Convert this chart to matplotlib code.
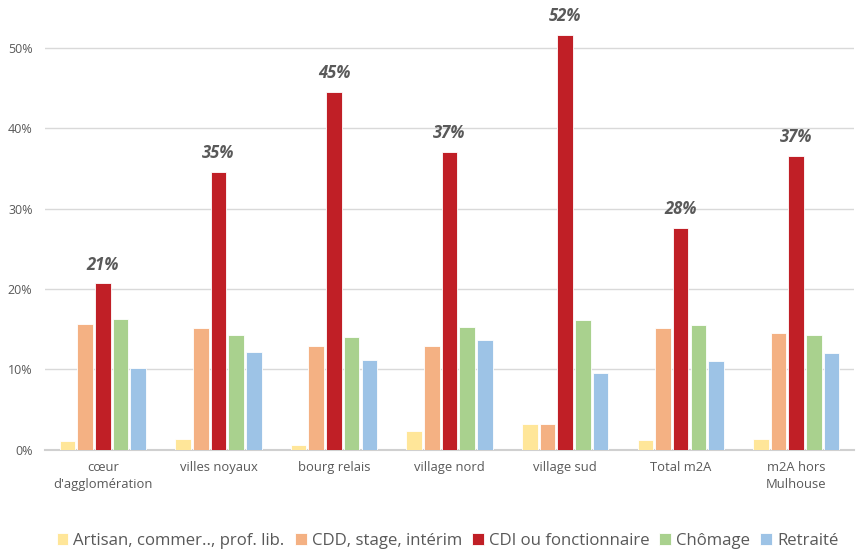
import numpy as np
import matplotlib.pyplot as plt

plt.rcParams['font.family'] = ['Open Sans', 'DejaVu Sans']

# territories
categories = ["cœur\nd'agglomération", "villes noyaux", "bourg relais", "village nord",
              "village sud", "Total m2A", "m2A hors\nMulhouse"]

# share of each status, in %
artisan = [1.1, 1.35, 0.6, 2.3, 3.2, 1.15, 1.3]
cdd = [15.6, 15.1, 12.9, 12.9, 3.2, 15.2, 14.5]
cdi = [20.7, 34.6, 44.6, 37.1, 51.7, 27.6, 36.6]
chomage = [16.3, 14.3, 14.0, 15.3, 16.1, 15.5, 14.3]
retraite = [10.2, 12.2, 11.2, 13.65, 9.6, 11.0, 12.05]

# rounded labels shown above the CDI bars
cdi_labels = ["21%", "35%", "45%", "37%", "52%", "28%", "37%"]

series = [
    ("Artisan, commer.., prof. lib.", artisan, "#FFE699"),
    ("CDD, stage, intérim", cdd, "#F4B183"),
    ("CDI ou fonctionnaire", cdi, "#C01F26"),
    ("Chômage", chomage, "#A9D18E"),
    ("Retraité", retraite, "#9DC3E6"),
]

fig = plt.figure(figsize=(8.61, 5.53), dpi=100)
ax = fig.add_axes([0.0523, 0.187, 0.9396, 0.813])

x = np.arange(len(categories))
step = 0.153
width = 0.135
for i, (name, vals, col) in enumerate(series):
    pos = x + (i - 2) * step
    bars = ax.bar(pos, np.array(vals) / 100, width, color=col, label=name,
                  edgecolor="white", linewidth=0.6, zorder=3)
    if name.startswith("CDI"):
        for b, lab in zip(bars, cdi_labels):
            ax.annotate(lab, (b.get_x() + b.get_width() / 2, b.get_height()),
                        xytext=(0, 7), textcoords="offset points", ha="center",
                        va="bottom", fontsize=12, fontweight="bold",
                        fontstyle="italic", color="#595959", zorder=4)

ax.set_xlim(-0.5, len(categories) - 0.5)
ax.set_ylim(0, 0.56)
ax.set_yticks([0, 0.1, 0.2, 0.3, 0.4, 0.5])
ax.set_yticklabels(["0%", "10%", "20%", "30%", "40%", "50%"])
ax.set_xticks(x)
ax.set_xticklabels(categories, linespacing=1.45)
ax.tick_params(axis="y", length=0, labelsize=9, colors="#595959", pad=9)
ax.tick_params(axis="x", length=0, labelsize=9.4, colors="#595959", pad=8)
ax.grid(axis="y", color="#D9D9D9", linewidth=1, zorder=0)
for s in ["top", "right", "left"]:
    ax.spines[s].set_visible(False)
ax.spines["bottom"].set_color("#D0D0D0")
ax.spines["bottom"].set_linewidth(1.5)

fig.legend(loc="center left", bbox_to_anchor=(0.058, 0.022), ncol=5, frameon=False,
           fontsize=12.1, handlelength=0.7, handleheight=0.7, handletextpad=0.3,
           columnspacing=0.6, labelcolor="#595959", borderaxespad=0)

fig.savefig("out.png", dpi=100)
